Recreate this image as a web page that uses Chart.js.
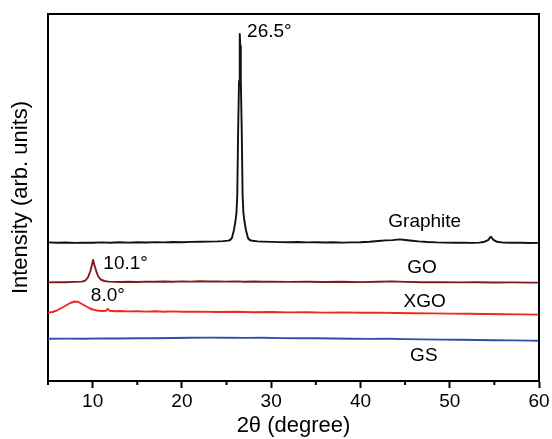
<!DOCTYPE html>
<html lang="en">
<head>
<meta charset="UTF-8">
<title>XRD patterns</title>
<script src="https://cdn.jsdelivr.net/npm/chart.js"></script>
<style>
    html, body { margin: 0; padding: 0; background: #fff; }
    #wrap { width: 552px; height: 439px; }
</style>
</head>
<body>
<div id="wrap"><canvas id="xrd" width="552" height="439"></canvas></div>
<script>
// values (intensity in arbitrary units, stacked offsets)
const graphiteX = [5, 6, 7, 8, 9, 10, 11, 12, 13, 14, 15, 16, 17, 18, 19, 20, 21, 22, 23, 24, 24.6, 25.2, 25.4, 25.6, 25.83, 26.0, 26.11, 26.2, 26.3, 26.4, 26.46, 26.5, 26.54, 26.6, 26.7, 26.8, 26.89, 27.0, 27.17, 27.4, 27.6, 27.9, 28.5, 29, 30, 31, 32, 33, 34, 35, 36, 37, 38, 39, 40, 41, 42, 42.8, 43.6, 44.4, 45, 45.8, 46.5, 47.5, 48.5, 49.5, 50.5, 51.5, 52.5, 53.3, 53.9, 54.3, 54.6, 54.9, 55.3, 56, 57, 58, 59, 60];
const graphiteY = [138.6, 138.2, 138.5, 138.1, 138.4, 138.2, 138.6, 138.3, 138.7, 138.4, 138.8, 138.5, 138.9, 138.6, 139.0, 138.8, 139.1, 139.2, 139.4, 139.6, 139.9, 140.4, 141, 143, 151, 160, 168, 185, 251, 300, 335, 347, 335, 300, 251, 185, 168, 160, 151, 143, 141, 140.2, 139.6, 139.4, 139.1, 138.9, 138.7, 139.0, 138.6, 138.8, 138.5, 138.7, 138.4, 138.6, 138.8, 139.3, 140.0, 140.6, 140.9, 141.6, 141.0, 140.3, 139.6, 139.0, 138.6, 138.4, 138.2, 138.3, 138.1, 138.4, 139.3, 140.9, 144.3, 141.2, 139.2, 138.4, 138.2, 138.3, 138.0, 138.1];

const goX = [5, 6, 7, 8, 8.8, 9.2, 9.5, 9.75, 9.92, 10.05, 10.2, 10.4, 10.6, 10.9, 11.3, 11.8, 13, 14, 15, 16, 17, 18, 19, 20, 21, 22, 23, 24, 25, 26, 27, 28, 29, 30, 32, 34, 36, 38, 40, 42, 43.5, 45, 47, 49, 51, 53, 55, 57, 59, 60];
const goY = [98.6, 98.9, 98.7, 99.1, 99.4, 100.5, 104, 110, 116, 121, 116, 110, 105, 101.5, 100, 99.4, 99.0, 99.3, 99.0, 99.4, 99.2, 99.5, 99.3, 99.6, 99.4, 99.7, 99.5, 99.6, 99.4, 99.6, 99.3, 99.5, 99.2, 99.4, 99.1, 99.3, 99.0, 99.2, 98.9, 99.2, 99.6, 99.1, 98.8, 98.9, 98.6, 98.7, 98.5, 98.6, 98.4, 98.4];

const xgoX = [5, 5.5, 6, 6.5, 7, 7.5, 8.0, 8.4, 8.8, 9.2, 9.6, 10.0, 10.5, 11, 11.5, 11.7, 11.9, 12.5, 13, 14, 15, 16, 17, 18, 19, 20, 22, 24, 26, 28, 30, 32, 34, 36, 38, 40, 42, 44, 46, 48, 50, 52, 54, 56, 58, 60];
const xgoY = [68.5, 69, 70.5, 73, 75.5, 78, 79.5, 79, 77, 75, 73, 71.5, 70.5, 70, 70.3, 72, 70.2, 69.8, 70, 69.6, 69.8, 69.4, 69.7, 69.3, 69.6, 69.2, 69.4, 69, 69.2, 68.8, 69, 68.6, 68.8, 68.4, 68.6, 68.2, 68.4, 68, 67.8, 67.6, 67.4, 67.2, 67, 66.8, 66.6, 66.4];

const gsX = [5, 7, 9, 11, 13, 15, 17, 19, 21, 23, 25, 27, 29, 31, 33, 35, 37, 39, 41, 43, 45, 47, 49, 51, 53, 55, 57, 59, 60];
const gsY = [42.3, 42.4, 42.2, 42.6, 42.5, 42.8, 42.7, 43, 43.2, 43.4, 43.3, 43.1, 43.2, 42.9, 42.7, 42.8, 42.5, 42.3, 42.1, 42.3, 41.9, 41.6, 41.4, 41.2, 41, 40.8, 40.6, 40.4, 40.3];

const minorTicks = [5, 15, 25, 35, 45, 55];

// text notes on the plot
const noteText = ['26.5°', '10.1°', '8.0°', 'Graphite', 'GO', 'XGO', 'GS'];
const noteX = [27.3, 11.2, 9.8, 47.2, 46.9, 47.2, 47.1];
const noteY = [349.5, 117, 85, 159.5, 113.5, 79.5, 25.5];
const noteAlign = ['left', 'left', 'left', 'center', 'center', 'center', 'center'];

const family = '"Liberation Sans", Arial, sans-serif';

function toPoints(xs, ys) {
    return xs.map((v, i) => ({ x: v, y: ys[i] }));
}

// top/right sides of the box, minor ticks and the peak / sample labels
const annotate = {
    id: 'annotate',
    afterDraw(chart) {
        const { ctx, chartArea: a, scales: { x, y } } = chart;
        ctx.save();
        ctx.strokeStyle = '#000';
        ctx.lineWidth = 2;
        ctx.beginPath();
        ctx.moveTo(a.left - 1, a.top);
        ctx.lineTo(a.right, a.top);
        ctx.lineTo(a.right, a.bottom + 1);
        ctx.stroke();
        minorTicks.forEach((v) => {
            const px = x.getPixelForValue(v);
            ctx.beginPath();
            ctx.moveTo(px, a.bottom);
            ctx.lineTo(px, a.bottom + 4);
            ctx.stroke();
        });
        ctx.fillStyle = '#000';
        ctx.font = '19px ' + family;
        ctx.textBaseline = 'middle';
        noteText.forEach((t, i) => {
            ctx.textAlign = noteAlign[i];
            ctx.fillText(t, x.getPixelForValue(noteX[i]), y.getPixelForValue(noteY[i]));
        });
        ctx.restore();
    }
};

new Chart(document.getElementById('xrd'), {
    type: 'line',
    data: {
        datasets: [
            { label: 'Graphite', data: toPoints(graphiteX, graphiteY), borderColor: '#111', borderWidth: 1.9 },
            { label: 'GO', data: toPoints(goX, goY), borderColor: 'rgb(125,28,28)', borderWidth: 1.9 },
            { label: 'XGO', data: toPoints(xgoX, xgoY), borderColor: 'rgb(240,40,32)', borderWidth: 1.9 },
            { label: 'GS', data: toPoints(gsX, gsY), borderColor: 'rgb(45,80,170)', borderWidth: 1.9 }
        ]
    },
    options: {
        responsive: false,
        animation: false,
        layout: { padding: { top: 14, right: 13, left: 0, bottom: 0 } },
        plugins: { legend: { display: false }, tooltip: { enabled: false } },
        elements: { point: { radius: 0 }, line: { tension: 0, borderJoinStyle: 'round' } },
        scales: {
            x: {
                type: 'linear',
                min: 5,
                max: 60,
                ticks: {
                    stepSize: 5,
                    autoSkip: false,
                    maxRotation: 0,
                    padding: 2,
                    color: '#000',
                    font: { size: 19, family: family },
                    callback: (v) => (v % 10 === 0 ? v : '')
                },
                grid: {
                    drawOnChartArea: false,
                    drawTicks: true,
                    tickLength: 7,
                    tickWidth: 2,
                    tickColor: (c) => (c.tick && c.tick.value % 10 === 0 ? '#000' : 'rgba(0,0,0,0)')
                },
                border: { display: true, color: '#000', width: 2 },
                title: { display: true, text: '2θ (degree)', color: '#000', font: { size: 22, family: family }, padding: 0 },
                afterFit: (s) => { s.height = 58; }
            },
            y: {
                type: 'linear',
                min: 0,
                max: 367,
                ticks: { display: false },
                grid: { display: false },
                border: { display: true, color: '#000', width: 2 },
                title: { display: true, text: 'Intensity (arb. units)', color: '#000', font: { size: 22, family: family }, padding: { top: 8, bottom: 0 } },
                afterFit: (s) => { s.width = 48; }
            }
        }
    },
    plugins: [annotate]
});
</script>
</body>
</html>
